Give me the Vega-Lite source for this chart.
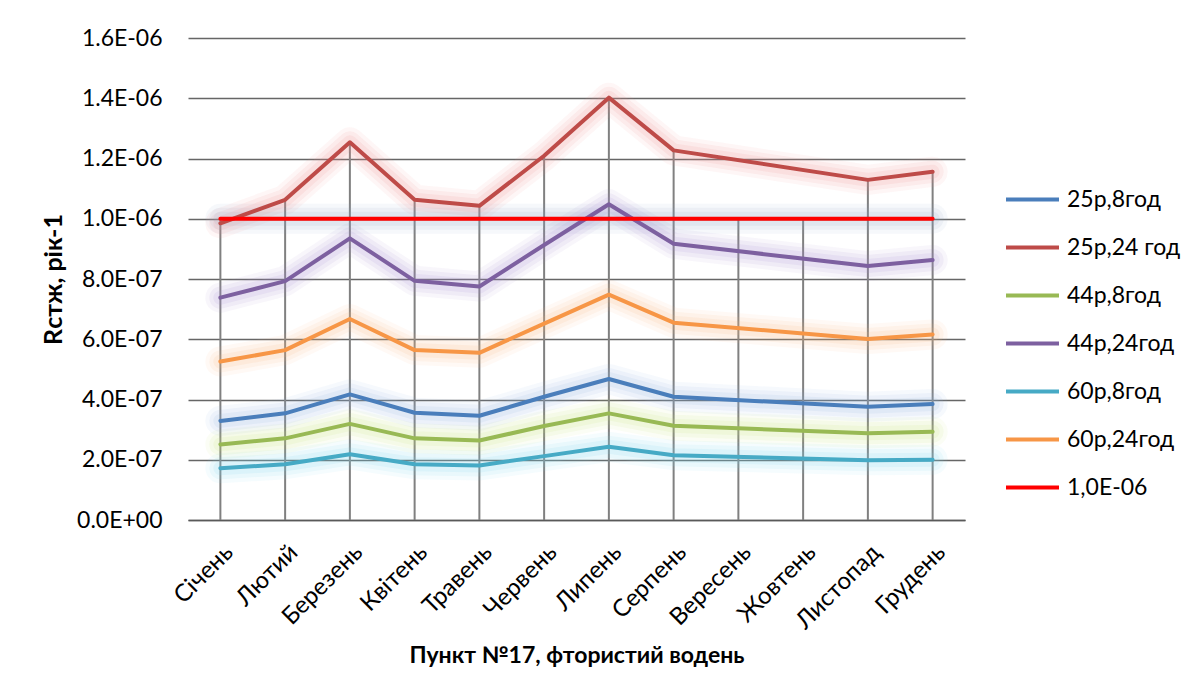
{
  "$schema": "https://vega.github.io/schema/vega-lite/v6.json",
  "autosize": "none",
  "width": 777,
  "height": 482,
  "padding": {"left": 188, "top": 38, "right": 231, "bottom": 153},
  "background": "white",
  "config": {
    "font": "Lato",
    "view": {"stroke": null},
    "axis": {"labelFont": "Lato", "titleFont": "Lato", "labelColor": "#000000", "titleColor": "#000000"}
  },
  "datasets": {
    "series": [
      {"month": "Січень", "series": "25р,8год", "value": 3.29E-7},
      {"month": "Лютий", "series": "25р,8год", "value": 3.54E-7},
      {"month": "Березень", "series": "25р,8год", "value": 4.17E-7},
      {"month": "Квітень", "series": "25р,8год", "value": 3.56E-7},
      {"month": "Травень", "series": "25р,8год", "value": 3.46E-7},
      {"month": "Червень", "series": "25р,8год", "value": 4.09E-7},
      {"month": "Липень", "series": "25р,8год", "value": 4.68E-7},
      {"month": "Серпень", "series": "25р,8год", "value": 4.09E-7},
      {"month": "Листопад", "series": "25р,8год", "value": 3.76E-7},
      {"month": "Грудень", "series": "25р,8год", "value": 3.85E-7},

      {"month": "Січень", "series": "25р,24 год", "value": 9.85E-7},
      {"month": "Лютий", "series": "25р,24 год", "value": 1.063E-6},
      {"month": "Березень", "series": "25р,24 год", "value": 1.254E-6},
      {"month": "Квітень", "series": "25р,24 год", "value": 1.063E-6},
      {"month": "Травень", "series": "25р,24 год", "value": 1.043E-6},
      {"month": "Червень", "series": "25р,24 год", "value": 1.209E-6},
      {"month": "Липень", "series": "25р,24 год", "value": 1.402E-6},
      {"month": "Серпень", "series": "25р,24 год", "value": 1.227E-6},
      {"month": "Листопад", "series": "25р,24 год", "value": 1.129E-6},
      {"month": "Грудень", "series": "25р,24 год", "value": 1.156E-6},

      {"month": "Січень", "series": "44р,8год", "value": 2.51E-7},
      {"month": "Лютий", "series": "44р,8год", "value": 2.71E-7},
      {"month": "Березень", "series": "44р,8год", "value": 3.19E-7},
      {"month": "Квітень", "series": "44р,8год", "value": 2.71E-7},
      {"month": "Травень", "series": "44р,8год", "value": 2.64E-7},
      {"month": "Червень", "series": "44р,8год", "value": 3.12E-7},
      {"month": "Липень", "series": "44р,8год", "value": 3.54E-7},
      {"month": "Серпень", "series": "44р,8год", "value": 3.13E-7},
      {"month": "Листопад", "series": "44р,8год", "value": 2.88E-7},
      {"month": "Грудень", "series": "44р,8год", "value": 2.93E-7},

      {"month": "Січень", "series": "44р,24год", "value": 7.38E-7},
      {"month": "Лютий", "series": "44р,24год", "value": 7.93E-7},
      {"month": "Березень", "series": "44р,24год", "value": 9.35E-7},
      {"month": "Квітень", "series": "44р,24год", "value": 7.94E-7},
      {"month": "Травень", "series": "44р,24год", "value": 7.75E-7},
      {"month": "Червень", "series": "44р,24год", "value": 9.13E-7},
      {"month": "Липень", "series": "44р,24год", "value": 1.048E-6},
      {"month": "Серпень", "series": "44р,24год", "value": 9.17E-7},
      {"month": "Листопад", "series": "44р,24год", "value": 8.43E-7},
      {"month": "Грудень", "series": "44р,24год", "value": 8.63E-7},

      {"month": "Січень", "series": "60р,8год", "value": 1.72E-7},
      {"month": "Лютий", "series": "60р,8год", "value": 1.85E-7},
      {"month": "Березень", "series": "60р,8год", "value": 2.18E-7},
      {"month": "Квітень", "series": "60р,8год", "value": 1.85E-7},
      {"month": "Травень", "series": "60р,8год", "value": 1.81E-7},
      {"month": "Червень", "series": "60р,8год", "value": 2.12E-7},
      {"month": "Липень", "series": "60р,8год", "value": 2.43E-7},
      {"month": "Серпень", "series": "60р,8год", "value": 2.15E-7},
      {"month": "Листопад", "series": "60р,8год", "value": 1.98E-7},
      {"month": "Грудень", "series": "60р,8год", "value": 2.0E-7},

      {"month": "Січень", "series": "60р,24год", "value": 5.26E-7},
      {"month": "Лютий", "series": "60р,24год", "value": 5.64E-7},
      {"month": "Березень", "series": "60р,24год", "value": 6.67E-7},
      {"month": "Квітень", "series": "60р,24год", "value": 5.64E-7},
      {"month": "Травень", "series": "60р,24год", "value": 5.55E-7},
      {"month": "Червень", "series": "60р,24год", "value": 6.52E-7},
      {"month": "Липень", "series": "60р,24год", "value": 7.48E-7},
      {"month": "Серпень", "series": "60р,24год", "value": 6.55E-7},
      {"month": "Листопад", "series": "60р,24год", "value": 6.01E-7},
      {"month": "Грудень", "series": "60р,24год", "value": 6.16E-7},

      {"month": "Січень", "series": "1,0E-06", "value": 1.0E-6},
      {"month": "Лютий", "series": "1,0E-06", "value": 1.0E-6},
      {"month": "Березень", "series": "1,0E-06", "value": 1.0E-6},
      {"month": "Квітень", "series": "1,0E-06", "value": 1.0E-6},
      {"month": "Травень", "series": "1,0E-06", "value": 1.0E-6},
      {"month": "Червень", "series": "1,0E-06", "value": 1.0E-6},
      {"month": "Липень", "series": "1,0E-06", "value": 1.0E-6},
      {"month": "Серпень", "series": "1,0E-06", "value": 1.0E-6},
      {"month": "Вересень", "series": "1,0E-06", "value": 1.0E-6},
      {"month": "Жовтень", "series": "1,0E-06", "value": 1.0E-6},
      {"month": "Листопад", "series": "1,0E-06", "value": 1.0E-6},
      {"month": "Грудень", "series": "1,0E-06", "value": 1.0E-6}
    ]
  },
  "data": {"name": "series"},
  "encoding": {
    "x": {
      "field": "month",
      "type": "ordinal",
      "sort": ["Січень", "Лютий", "Березень", "Квітень", "Травень", "Червень", "Липень", "Серпень", "Вересень", "Жовтень", "Листопад", "Грудень"],
      "scale": {
        "type": "point",
        "padding": 0.5,
        "domain": ["Січень", "Лютий", "Березень", "Квітень", "Травень", "Червень", "Липень", "Серпень", "Вересень", "Жовтень", "Листопад", "Грудень"]
      },
      "axis": {
        "title": "Пункт №17, фтористий водень",
        "titleFontSize": 23,
        "titleFontWeight": "bold",
        "titlePadding": 11,
        "labelAngle": -45,
        "labelFontSize": 24,
        "labelPadding": 20,
        "ticks": false,
        "domainColor": "#595959",
        "domainWidth": 1.5,
        "grid": false
      }
    },
    "y": {
      "field": "value",
      "type": "quantitative",
      "scale": {"domain": [0, 1.6E-6], "nice": false, "zero": true},
      "axis": {
        "title": "Rстж, рік-1",
        "titleFontSize": 25,
        "titleFontWeight": "bold",
        "titlePadding": 10,
        "values": [0, 2E-7, 4E-7, 6E-7, 8E-7, 1E-6, 1.2E-6, 1.4E-6, 1.6E-6],
        "labelExpr": "datum.value == 0 ? '0.0E+00' : (datum.value < 9.99E-7 ? format(datum.value * 1E7, '.1f') + 'E-07' : format(datum.value * 1E6, '.1f') + 'E-06')",
        "labelFontSize": 23,
        "labelPadding": 26,
        "ticks": false,
        "domain": false,
        "grid": true,
        "gridColor": "#666666",
        "gridWidth": 1.5
      }
    }
  },
  "layer": [
    {
      "transform": [
        {"aggregate": [{"op": "max", "field": "value", "as": "top"}], "groupby": ["month"]}
      ],
      "mark": {"type": "rule", "color": "#808080", "strokeWidth": 2},
      "encoding": {
        "y": {"field": "top", "type": "quantitative"},
        "y2": {"datum": 0}
      }
    },
    {
      "mark": {"type": "line", "strokeWidth": 30, "opacity": 0.08, "strokeCap": "round", "strokeJoin": "round"},
      "encoding": {
        "detail": {"field": "series"},
        "color": {
          "field": "series",
          "type": "nominal",
          "legend": null,
          "scale": {
            "domain": ["25р,8год", "25р,24 год", "44р,8год", "44р,24год", "60р,8год", "60р,24год", "1,0E-06"],
            "range": ["#8fb2e0", "#f08c8c", "#c8e67a", "#a58cd2", "#7fd6ec", "#f9b87f", "#8fa7c8"]
          }
        }
      }
    },
    {
      "mark": {"type": "line", "strokeWidth": 22, "opacity": 0.1, "strokeCap": "round", "strokeJoin": "round"},
      "encoding": {
        "detail": {"field": "series"},
        "color": {
          "field": "series",
          "type": "nominal",
          "legend": null,
          "scale": {
            "domain": ["25р,8год", "25р,24 год", "44р,8год", "44р,24год", "60р,8год", "60р,24год", "1,0E-06"],
            "range": ["#8fb2e0", "#f08c8c", "#c8e67a", "#a58cd2", "#7fd6ec", "#f9b87f", "#8fa7c8"]
          }
        }
      }
    },
    {
      "mark": {"type": "line", "strokeWidth": 14, "opacity": 0.12, "strokeCap": "round", "strokeJoin": "round"},
      "encoding": {
        "detail": {"field": "series"},
        "color": {
          "field": "series",
          "type": "nominal",
          "legend": null,
          "scale": {
            "domain": ["25р,8год", "25р,24 год", "44р,8год", "44р,24год", "60р,8год", "60р,24год", "1,0E-06"],
            "range": ["#8fb2e0", "#f08c8c", "#c8e67a", "#a58cd2", "#7fd6ec", "#f9b87f", "#8fa7c8"]
          }
        }
      }
    },
    {
      "mark": {"type": "line", "strokeWidth": 4, "strokeCap": "round", "strokeJoin": "round"},
      "encoding": {
        "color": {
          "field": "series",
          "type": "nominal",
          "sort": ["25р,8год", "25р,24 год", "44р,8год", "44р,24год", "60р,8год", "60р,24год", "1,0E-06"],
          "scale": {
            "domain": ["25р,8год", "25р,24 год", "44р,8год", "44р,24год", "60р,8год", "60р,24год", "1,0E-06"],
            "range": ["#4a7ebb", "#be4b48", "#98b954", "#7d60a0", "#46aac5", "#f79646", "#ff0000"]
          },
          "legend": {
            "title": null,
            "orient": "none",
            "legendX": 816,
            "legendY": 133,
            "symbolType": "stroke",
            "symbolStrokeWidth": 4,
            "symbolSize": 2809,
            "labelFontSize": 23,
            "labelFont": "Lato",
            "labelColor": "#000000",
            "labelOffset": 6,
            "rowPadding": 7
          }
        }
      }
    }
  ],
  "resolve": {"scale": {"color": "independent"}}
}
